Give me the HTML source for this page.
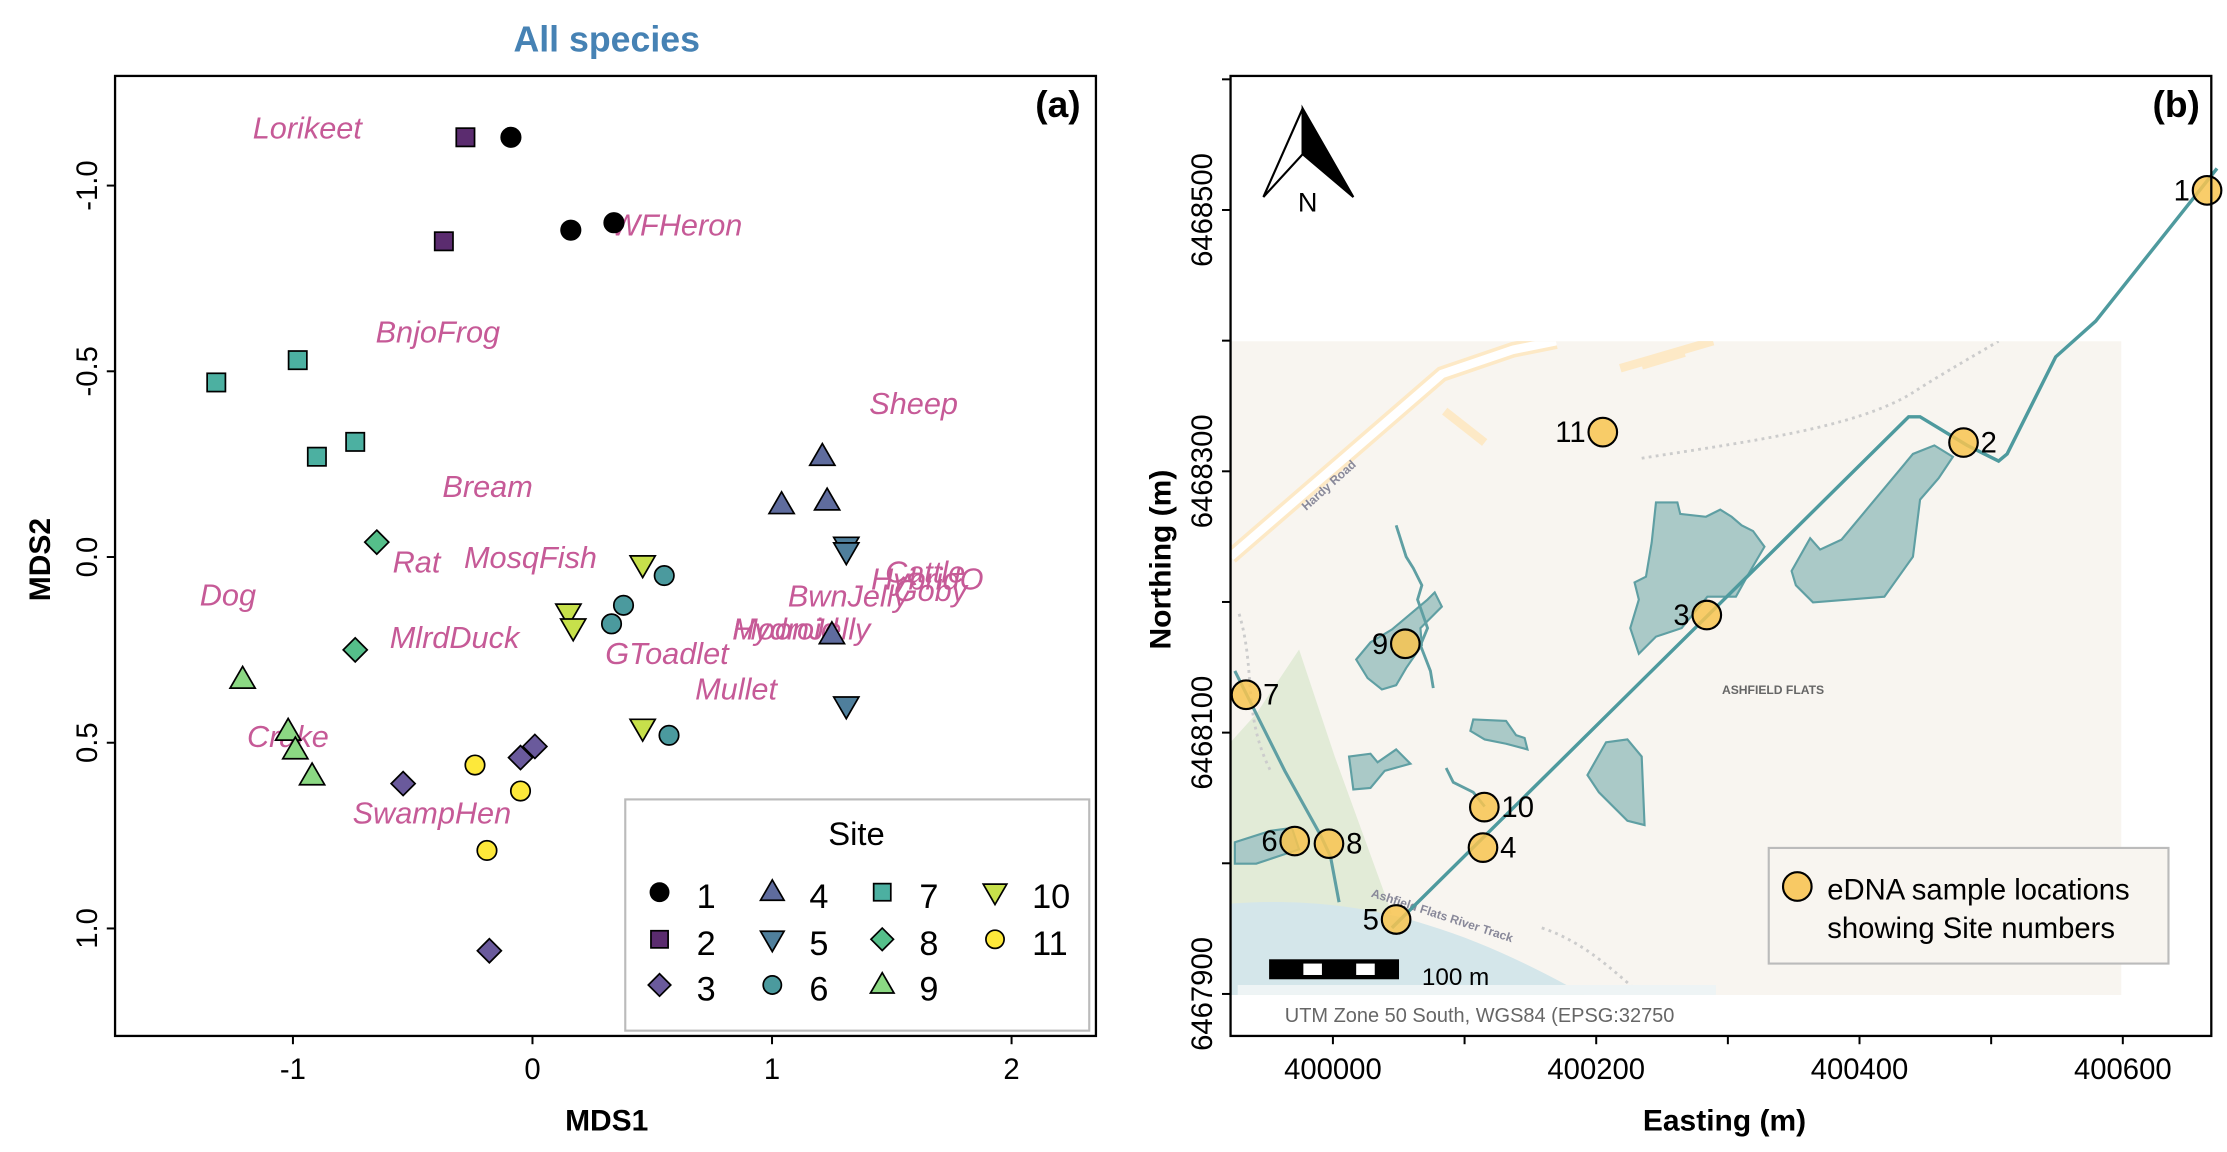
<!DOCTYPE html>
<html><head><meta charset="utf-8">
<style>
html,body{margin:0;padding:0;background:#fff;}
svg{display:block;}
text{font-family:"Liberation Sans",Arial,sans-serif;}
</style></head>
<body>
<svg id="fig" width="2227" height="1152" viewBox="0 0 1560 807" preserveAspectRatio="none" xmlns="http://www.w3.org/2000/svg">
  <g>
    <text x="425" y="36" text-anchor="middle" font-size="25" font-weight="bold" fill="#4682b4">All species</text>
    <rect x="80.6" y="53.2" width="687.1" height="672.5" fill="none" stroke="#000" stroke-width="1.6"/>
    <text x="757" y="82" text-anchor="end" font-size="26" font-weight="bold">(a)</text>
    <g id="axA"></g>
    <text x="425" y="792" text-anchor="middle" font-size="21" font-weight="bold">MDS1</text>
    <text transform="translate(35,392) rotate(-90)" text-anchor="middle" font-size="21" font-weight="bold">MDS2</text>
    <g id="speciesG"></g>
    <g id="ptsA"></g>
    <g>
      <rect x="438" y="560" width="325" height="162" fill="#fff" stroke="#bbb" stroke-width="1.5"/>
      <text x="600" y="592" text-anchor="middle" font-size="23">Site</text>
      <g id="legA"></g>
    </g>
  </g>

  <g>
    <defs><clipPath id="mapclip"><rect x="862" y="239" width="624" height="458"/></clipPath></defs>
    <g clip-path="url(#mapclip)">
      <rect x="862" y="239" width="624" height="458" fill="#f8f5f0"/>
      <path d="M862,520 L880,500 L910,455 L935,530 L975,640 L862,640 Z" fill="#e2ebd7"/>
      <path d="M862,633 C900,630 950,632 1000,648 C1040,660 1080,680 1110,697 L862,697 Z" fill="#d4e6ea"/>
      <path d="M862,390 L1010,262 L1060,245 L1090,239" fill="none" stroke="#fde9c6" stroke-width="11"/>
      <path d="M862,390 L1010,262 L1060,245 L1090,239" fill="none" stroke="#fff" stroke-width="6"/>
      <path d="M1012,288 L1040,310 M1150,256 L1180,247 M1135,258 L1200,239" fill="none" stroke="#fde9c6" stroke-width="6"/>
      <path d="M1150,321 C1220,310 1300,300 1340,275 C1360,262 1390,245 1400,239 M868,430 C880,470 870,500 890,540 M1080,650 C1110,660 1130,680 1150,697" fill="none" stroke="#ccc" stroke-width="2" stroke-dasharray="2,3"/>
      <g fill="#aac9c7" stroke="#5f9fa3" stroke-width="1.5">
        <path d="M1160,352 L1175,352 L1177,360 L1195,362 L1205,357 L1213,362 L1220,368 L1228,372 L1236,383 L1226,400 L1216,418 L1196,418 L1178,440 L1160,446 L1148,458 L1142,440 L1148,420 L1145,408 L1153,404 L1157,380 Z"/>
        <path d="M1268,377 L1275,385 L1290,378 L1305,360 L1340,318 L1355,312 L1368,320 L1358,335 L1345,350 L1340,390 L1320,418 L1270,422 L1258,410 L1255,400 Z"/>
        <path d="M975,441 L1000,420 L1005,415 L1010,425 L995,440 L996,452 L985,468 L978,480 L968,483 L958,475 L950,462 L960,450 Z"/>
        <path d="M1032,504 L1055,505 L1062,515 L1068,517 L1070,525 L1055,521 L1040,518 L1030,512 Z"/>
        <path d="M1125,520 L1140,518 L1150,530 L1152,578 L1140,575 L1120,555 L1112,543 Z"/>
        <path d="M945,530 L960,528 L965,534 L978,525 L988,535 L970,540 L960,552 L948,553 Z"/>
        <path d="M865,590 L890,582 L905,580 L910,595 L895,600 L880,605 L865,605 Z"/>
      </g>
      <path d="M1004,482 L1002,470 L995,452 L1000,440 L993,420 L996,410 L990,398 L985,390 L978,368" fill="none" stroke="#5f9fa3" stroke-width="2"/>
      <path d="M1013,538 L1018,548 L1032,555 L1040,565" fill="none" stroke="#5f9fa3" stroke-width="2"/>
      <path d="M865,470 L873,486 L900,540 L925,585 L932,600 L938,632" fill="none" stroke="#5f9fa3" stroke-width="2.2"/>
      <text x="1242" y="486" text-anchor="middle" font-size="8.5" fill="#666" font-weight="bold">ASHFIELD FLATS</text>
      <text transform="translate(960,628) rotate(18)" font-size="8.5" fill="#889" font-weight="bold">Ashfield Flats River Track</text>
      <text transform="translate(915,358) rotate(-42)" font-size="8.5" fill="#889" font-weight="bold">Hardy Road</text>
    </g>
    <path d="M975,650 L1337,292 L1345,292 L1378,312 L1400,323 L1406,318 L1440,250 L1468,225 L1553,118" fill="none" stroke="#4e9a9e" stroke-width="2.4"/>
    <rect x="867" y="690" width="335" height="7" fill="#eef4f5"/>
    <text x="900" y="716" font-size="14" fill="#666">UTM Zone 50 South, WGS84 (EPSG:32750</text>
    <g>
      <rect x="889" y="672" width="91" height="14" fill="#000"/>
      <rect x="913" y="675" width="13" height="8" fill="#fff"/>
      <rect x="950" y="675" width="13" height="8" fill="#fff"/>
      <text x="996" y="690" font-size="17">100 m</text>
    </g>
    <g>
      <path d="M912.5,76 L885,138 L912.5,108 Z" fill="#fff" stroke="#000" stroke-width="1.5"/>
      <path d="M912.5,76 L948,138 L912.5,108 Z" fill="#000" stroke="#000" stroke-width="1.5"/>
      <text x="916" y="148" text-anchor="middle" font-size="19">N</text>
    </g>
    <g id="ptsB"></g>
    <rect x="862" y="53.2" width="687" height="672.5" fill="none" stroke="#000" stroke-width="1.6"/>
    <text x="1541" y="82" text-anchor="end" font-size="26" font-weight="bold">(b)</text>
    <g id="axB"></g>
    <text x="1208" y="792" text-anchor="middle" font-size="21" font-weight="bold">Easting (m)</text>
    <text transform="translate(820,392) rotate(-90)" text-anchor="middle" font-size="21" font-weight="bold">Northing (m)</text>
    <g>
      <rect x="1239" y="594" width="280" height="81" fill="#f8f5f0" stroke="#bbb" stroke-width="1.5"/>
      <circle cx="1259" cy="621" r="10" fill="#f8c964" stroke="#000" stroke-width="1.5"/>
      <text x="1280" y="630" font-size="20.5">eDNA sample locations</text>
      <text x="1280" y="657" font-size="20.5">showing Site numbers</text>
    </g>
  </g>
</svg>
<script>
const siteNames = ["1","2","3","4","5","6","7","8","9","10","11"];
const siteShapes = ["circle","square","diamond","up","down","circle","square","diamond","up","down","circle"];
const siteColors = ["#000000","#5b2c6f","#6a5a9c","#5f6c9e","#4f7f9c","#4b9a9e","#4cb0a1","#55bf8a","#8bd883","#c7e04b","#fde83a"];
const site1X = [-0.09, 0.16, 0.34];   const site1Y = [-1.13, -0.88, -0.90];
const site2X = [-0.28, -0.37];        const site2Y = [-1.13, -0.85];
const site3X = [-0.18, -0.54, -0.05, 0.01]; const site3Y = [1.06, 0.61, 0.54, 0.51];
const site4X = [1.21, 1.04, 1.23, 1.25]; const site4Y = [-0.27, -0.14, -0.15, 0.21];
const site5X = [1.31, 1.31, 1.31];    const site5Y = [-0.03, -0.015, 0.40];
const site6X = [0.55, 0.38, 0.33, 0.57]; const site6Y = [0.05, 0.13, 0.18, 0.48];
const site7X = [-1.32, -0.98, -0.90, -0.74]; const site7Y = [-0.47, -0.53, -0.27, -0.31];
const site8X = [-0.65, -0.74];        const site8Y = [-0.04, 0.25];
const site9X = [-1.21, -1.02, -0.99, -0.92]; const site9Y = [0.33, 0.47, 0.52, 0.59];
const site10X = [0.46, 0.15, 0.17, 0.46]; const site10Y = [0.02, 0.15, 0.19, 0.46];
const site11X = [-0.24, -0.05, -0.19]; const site11Y = [0.56, 0.63, 0.79];
const speciesNames = ["Lorikeet","WFHeron","BnjoFrog","Sheep","Bream","Rat","MosqFish","Dog","Cattle","HybridO","Goby","BwnJelly","MlrdDuck","MoonJelly","Hydroid","GToadlet","Mullet","Crake","SwampHen"];
const speciesX = [-1.168, 0.328, -0.655, 1.406, -0.376, -0.584, -0.286, -1.389, 1.472, 1.413, 1.508, 1.066, -0.596, 0.834, 0.834, 0.304, 0.679, -1.192, -0.751];
const speciesY = [-1.154, -0.892, -0.605, -0.412, -0.189, 0.015, 0.003, 0.103, 0.042, 0.061, 0.091, 0.107, 0.218, 0.195, 0.195, 0.261, 0.357, 0.484, 0.691];
const xTicksA = [-1, 0, 1, 2];
const yTicksA = [-1.0, -0.5, 0.0, 0.5, 1.0];
const yTickLabelsA = ["-1.0","-0.5","0.0","0.5","1.0"];

const mapSites = ["1","2","3","4","5","6","7","8","9","10","11"];
const mapEasting = [400664, 400479, 400284, 400114, 400048, 399971, 399934, 399997, 400055, 400115, 400205];
const mapNorthing = [6468515, 6468322, 6468190, 6468012, 6467957, 6468017, 6468129, 6468015, 6468168, 6468043, 6468330];
const mapLabelSide = ["L","R","L","R","L","L","R","R","L","R","L"];
const eastTicks = [400000, 400100, 400200, 400300, 400400, 400500, 400600];
const eastTickLabels = ["400000","","400200","","400400","","400600"];
const northTicks = [6467900, 6468000, 6468100, 6468200, 6468300, 6468400, 6468500, 6468600];
const northTickLabels = ["6467900","","6468100","","6468300","","6468500",""];

const NS = "http://www.w3.org/2000/svg";
function mk(tag, attrs, parent){ const e=document.createElementNS(NS,tag); for(const k in attrs) e.setAttribute(k,attrs[k]); parent.appendChild(e); return e; }
const xA = v => 373 + 167.8*v;
const yA = v => 390.2 + 260.2*v;
const xB = v => 933.7 + 0.9222*(v-400000);
const yB = v => 147.1 - 0.9153*(v-6468500);

function marker(shape, cx, cy, s, fill, parent){
  let e;
  if(shape==="circle"){ e=mk("circle",{cx:cx,cy:cy,r:s*0.85,fill:fill,stroke:"#000","stroke-width":1.2},parent); }
  else if(shape==="square"){ e=mk("rect",{x:cx-s*0.8,y:cy-s*0.8,width:s*1.6,height:s*1.6,fill:fill,stroke:"#000","stroke-width":1.2},parent); }
  else if(shape==="diamond"){ e=mk("polygon",{points:`${cx},${cy-s*1.05} ${cx+s*1.05},${cy} ${cx},${cy+s*1.05} ${cx-s*1.05},${cy}`,fill:fill,stroke:"#000","stroke-width":1.2},parent); }
  else if(shape==="up"){ e=mk("polygon",{points:`${cx},${cy-s*1.15} ${cx+s*1.1},${cy+s*0.75} ${cx-s*1.1},${cy+s*0.75}`,fill:fill,stroke:"#000","stroke-width":1.2},parent); }
  else { e=mk("polygon",{points:`${cx},${cy+s*1.15} ${cx+s*1.1},${cy-s*0.75} ${cx-s*1.1},${cy-s*0.75}`,fill:fill,stroke:"#000","stroke-width":1.2},parent); }
  return e;
}

const axA = document.getElementById("axA");
xTicksA.forEach((v)=>{
  const t=mk("line",{x1:xA(v),x2:xA(v),y1:725.7,y2:731.5,stroke:"#000","stroke-width":1.4},axA);
  
  
  const l=mk("text",{x:xA(v),y:756,"text-anchor":"middle","font-size":20.5},axA); l.textContent=String(v);
  
  
});
yTicksA.forEach((v,i)=>{
  const t=mk("line",{x1:74.8,x2:80.6,y1:yA(v),y2:yA(v),stroke:"#000","stroke-width":1.4},axA);
  
  
  const l=mk("text",{transform:`translate(68,${yA(v)}) rotate(-90)`,"text-anchor":"middle","font-size":20.5},axA); l.textContent=yTickLabelsA[i];
  
  
});

const spG=document.getElementById("speciesG");
speciesNames.forEach((n,i)=>{
  const t=mk("text",{x:xA(speciesX[i]),y:yA(speciesY[i])+7,"text-anchor":"start","font-size":21.5,"font-style":"italic",fill:"#c65a97"},spG);
  t.textContent=n;
  
  
});

const siteX=[site1X,site2X,site3X,site4X,site5X,site6X,site7X,site8X,site9X,site10X,site11X];
const siteY=[site1Y,site2Y,site3Y,site4Y,site5Y,site6Y,site7Y,site8Y,site9Y,site10Y,site11Y];
const ptsA=document.getElementById("ptsA");
siteX.forEach((xs,s)=>{
  xs.forEach((xv,j)=>{
    const m=marker(siteShapes[s], xA(xv), yA(siteY[s][j]), 8, siteColors[s], ptsA);
    
    
  });
});

const legA=document.getElementById("legA");
const legColX=[462,541,618,697], legRowY=[627,660,692];
siteNames.forEach((n,i)=>{
  const c=Math.floor(i/3), r=i%3;
  const m=marker(siteShapes[i], legColX[c], legRowY[r]-2, 7.5, siteColors[i], legA);
  
  
  const t=mk("text",{x:legColX[c]+26,y:legRowY[r]+9,"font-size":24},legA); t.textContent=n;
  
  
});

const axB=document.getElementById("axB");
eastTicks.forEach((v,i)=>{
  const t=mk("line",{x1:xB(v),x2:xB(v),y1:725.7,y2:731.5,stroke:"#000","stroke-width":1.4},axB);
  
  
  if(eastTickLabels[i]){ const l=mk("text",{x:xB(v),y:756,"text-anchor":"middle","font-size":20.5},axB); l.textContent=eastTickLabels[i];
    
     }
});
northTicks.forEach((v,i)=>{
  const t=mk("line",{x1:856,x2:862,y1:yB(v),y2:yB(v),stroke:"#000","stroke-width":1.4},axB);
  
  
  if(northTickLabels[i]){ const l=mk("text",{transform:`translate(849,${yB(v)}) rotate(-90)`,"text-anchor":"middle","font-size":20.5},axB); l.textContent=northTickLabels[i];
    
     }
});

const ptsB=document.getElementById("ptsB");
mapSites.forEach((n,i)=>{
  const cx=xB(mapEasting[i]), cy=yB(mapNorthing[i]);
  const c=mk("circle",{cx:cx,cy:cy,r:10,fill:"#f8c450","fill-opacity":0.85,stroke:"#000","stroke-width":1.5},ptsB);
  
  
  const right=mapLabelSide[i]==="R";
  const t=mk("text",{x:right?cx+12:cx-12,y:cy+7,"text-anchor":right?"start":"end","font-size":20.5},ptsB);
  t.textContent=n;
  
  
});
</script>
</body></html>
